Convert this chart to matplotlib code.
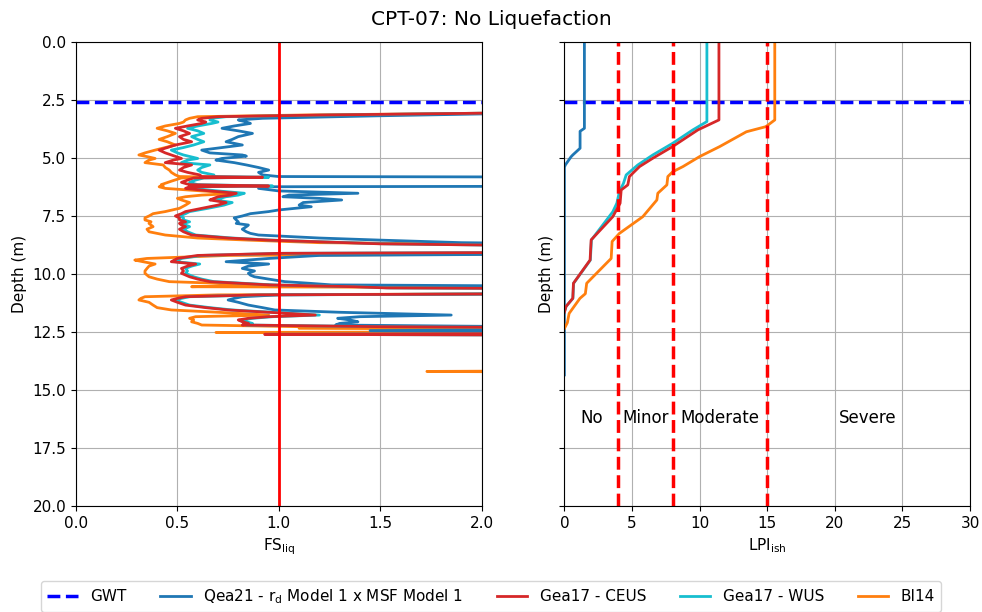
import matplotlib
matplotlib.use("Agg")
import matplotlib.pyplot as plt

# CPT-07 liquefaction triggering / LPIish summary
# FS values above 2 are off the axis, stored as 3.0 so the line leaves the plot

GWT_DEPTH = 2.6

# ---- factor of safety profiles (depth in m, FS) ----
qea21_depth = [0.0, 3.0, 3.07, 3.18, 3.29, 3.36, 3.45, 3.51, 3.62, 3.72, 3.83, 3.94, 4.08, 4.2, 4.3,
               4.44, 4.55, 4.66, 4.78, 4.87, 4.92, 5.02, 5.09, 5.2, 5.3, 5.41, 5.52, 5.62, 5.73, 5.8,
               5.83, 6.21, 6.24, 6.31, 6.42, 6.52, 6.6, 6.67, 6.74, 6.81, 6.92, 7.03, 7.1, 7.17, 7.24,
               7.31, 7.4, 7.5, 7.58, 7.67, 7.75, 7.82, 7.89, 7.96, 8.07, 8.18, 8.25, 8.32, 8.45, 8.54,
               8.65, 8.75, 9.11, 9.2, 9.33, 9.47, 9.57, 9.66, 9.76, 9.87, 9.97, 10.05, 10.12, 10.22,
               10.33, 10.4, 10.47, 10.55, 10.83, 10.9, 10.98, 11.05, 11.12, 11.22, 11.34, 11.45,
               11.55, 11.65, 11.77, 11.84, 11.91, 11.98, 12.06, 12.13, 12.2, 12.27, 12.34, 12.38,
               12.44, 12.5, 14.3]
qea21_fs = [3.0, 3.0, 2.2, 1.5, 0.92, 0.8, 0.84, 0.86, 0.78, 0.72, 0.8, 0.87, 0.8, 0.77, 0.74,
            0.82, 0.72, 0.62, 0.66, 0.82, 0.84, 0.72, 0.69, 0.78, 0.84, 0.9, 0.95, 0.9, 0.92, 1.0,
            3.0, 3.0, 0.95, 0.9, 1.0, 1.39, 1.05, 1.02, 1.2, 1.31, 1.12, 1.1, 1.16, 1.08, 1.0,
            0.95, 0.86, 0.82, 0.78, 0.79, 0.8, 0.79, 0.85, 0.84, 0.82, 0.84, 0.86, 0.9, 1.2, 1.5,
            1.9, 3.0, 3.0, 1.2, 0.95, 0.74, 0.95, 0.85, 0.82, 0.88, 0.85, 0.86, 0.88, 0.95,
            1.03, 1.15, 1.26, 3.0, 3.0, 1.0, 0.82, 0.78, 0.75, 0.8, 0.85, 0.92,
            0.98, 1.3, 1.85, 1.4, 1.29, 1.35, 1.39, 1.3, 1.28, 2.2, 3.0, 3.0,
            1.45, 3.0, 3.0]

ceus_depth = [0.0, 3.0, 3.07, 3.15, 3.22, 3.29, 3.36, 3.45, 3.51, 3.62, 3.72, 3.83, 3.94, 4.08, 4.2,
              4.3, 4.44, 4.55, 4.66, 4.78, 4.87, 5.02, 5.09, 5.2, 5.3, 5.41, 5.52, 5.62, 5.73, 5.8,
              5.83, 5.86, 5.95, 6.05, 6.15, 6.21, 6.24, 6.31, 6.42, 6.52, 6.6, 6.67, 6.74, 6.81,
              6.92, 7.03, 7.17, 7.31, 7.4, 7.5, 7.58, 7.67, 7.75, 7.82, 7.89, 7.96, 8.07, 8.18,
              8.32, 8.45, 8.54, 8.7, 8.85, 9.05, 9.11, 9.2, 9.33, 9.47, 9.57, 9.66, 9.76, 9.87,
              9.97, 10.12, 10.22, 10.33, 10.47, 10.55, 10.6, 10.65, 10.83, 10.9, 10.98, 11.05,
              11.12, 11.22, 11.34, 11.45, 11.55, 11.65, 11.77, 11.84, 11.91, 11.98, 12.06, 12.13,
              12.2, 12.27, 12.34, 12.55, 12.6, 12.65, 14.3]
ceus_fs = [3.0, 3.0, 2.0, 1.2, 0.7, 0.62, 0.6, 0.64, 0.62, 0.55, 0.49, 0.53, 0.56, 0.51, 0.53,
           0.57, 0.49, 0.45, 0.41, 0.44, 0.47, 0.52, 0.48, 0.44, 0.57, 0.53, 0.51, 0.55, 0.61, 0.62,
           0.92, 0.58, 0.55, 0.52, 0.56, 0.95, 0.56, 0.54, 0.66, 0.79, 0.76, 0.7, 0.68, 0.66,
           0.74, 0.7, 0.62, 0.54, 0.52, 0.49, 0.51, 0.51, 0.54, 0.51, 0.52, 0.54, 0.51, 0.53,
           0.57, 0.75, 0.95, 1.5, 3.0, 3.0, 1.0, 0.6, 0.5, 0.47, 0.59, 0.55, 0.52, 0.53,
           0.52, 0.56, 0.6, 0.66, 0.95, 1.38, 1.53, 3.0, 3.0, 0.9, 0.54, 0.5,
           0.47, 0.5, 0.54, 0.64, 0.75, 0.95, 1.18, 0.95, 0.85, 0.8, 0.82, 0.85,
           0.82, 1.5, 3.0, 3.0, 0.93, 3.0, 3.0]

wus_depth = [0.0, 3.0, 3.07, 3.15, 3.22, 3.29, 3.36, 3.45, 3.51, 3.62, 3.72, 3.83, 3.94, 4.08, 4.2,
             4.3, 4.44, 4.55, 4.66, 4.78, 4.87, 5.02, 5.09, 5.2, 5.3, 5.41, 5.52, 5.62, 5.73, 5.8,
             5.83, 5.86, 5.95, 6.05, 6.15, 6.21, 6.24, 6.31, 6.42, 6.52, 6.6, 6.67, 6.74, 6.81,
             6.92, 7.03, 7.17, 7.31, 7.4, 7.5, 7.58, 7.67, 7.75, 7.82, 7.89, 7.96, 8.07, 8.18,
             8.32, 8.45, 8.54, 8.7, 8.85, 9.05, 9.11, 9.2, 9.33, 9.47, 9.57, 9.66, 9.76, 9.87,
             9.97, 10.12, 10.22, 10.33, 10.47, 10.55, 10.6, 10.65, 10.83, 10.9, 10.98, 11.05,
             11.12, 11.22, 11.34, 11.45, 11.55, 11.65, 11.77, 11.84, 11.91, 11.98, 12.06, 12.13,
             12.2, 12.27, 12.34, 12.55, 12.6, 12.65, 14.3]
wus_fs = [3.0, 3.0, 2.0, 1.25, 0.74, 0.67, 0.66, 0.7, 0.67, 0.6, 0.55, 0.6, 0.63, 0.57, 0.6,
          0.63, 0.58, 0.53, 0.47, 0.5, 0.53, 0.6, 0.55, 0.52, 0.66, 0.62, 0.6, 0.62, 0.68, 0.68,
          0.95, 0.63, 0.59, 0.56, 0.6, 0.97, 0.59, 0.57, 0.7, 0.83, 0.8, 0.74, 0.71, 0.69,
          0.77, 0.73, 0.65, 0.56, 0.54, 0.51, 0.53, 0.53, 0.56, 0.53, 0.54, 0.56, 0.53, 0.55,
          0.59, 0.77, 0.97, 1.52, 3.0, 3.0, 1.02, 0.62, 0.52, 0.49, 0.61, 0.57, 0.54, 0.55,
          0.54, 0.58, 0.62, 0.68, 0.97, 1.4, 1.55, 3.0, 3.0, 0.92, 0.56, 0.52,
          0.49, 0.52, 0.56, 0.66, 0.77, 0.97, 1.2, 0.97, 0.87, 0.82, 0.84, 0.87,
          0.84, 1.52, 3.0, 3.0, 0.95, 3.0, 3.0]

bi14_depth = [0.0, 3.0, 3.07, 3.15, 3.22, 3.29, 3.36, 3.45, 3.51, 3.62, 3.72, 3.83, 3.94, 4.08, 4.2,
              4.3, 4.44, 4.55, 4.66, 4.78, 4.87, 4.94, 5.02, 5.09, 5.2, 5.3, 5.41, 5.52, 5.62, 5.73,
              5.8, 5.83, 5.86, 6.0, 6.15, 6.21, 6.24, 6.31, 6.42, 6.52, 6.6, 6.67, 6.74, 6.81,
              6.92, 7.03, 7.17, 7.31, 7.4, 7.5, 7.58, 7.67, 7.75, 7.82, 7.96, 8.07, 8.18, 8.32,
              8.45, 8.54, 8.65, 8.8, 9.11, 9.2, 9.33, 9.4, 9.47, 9.57, 9.66, 9.76, 9.87, 9.97,
              10.12, 10.22, 10.33, 10.47, 10.55, 10.6, 10.83, 10.9, 10.98, 11.05, 11.12, 11.22,
              11.34, 11.45, 11.55, 11.65, 11.77, 11.84, 11.91, 11.98, 12.06, 12.13, 12.2, 12.27,
              12.34, 12.4, 12.48, 12.52, 12.56, 14.15, 14.2, 14.25, 14.3]
bi14_fs = [3.0, 3.0, 2.0, 1.1, 0.6, 0.56, 0.54, 0.53, 0.51, 0.44, 0.4, 0.45, 0.49, 0.45, 0.41,
           0.45, 0.49, 0.44, 0.39, 0.34, 0.31, 0.35, 0.39, 0.36, 0.34, 0.43, 0.44, 0.46, 0.47, 0.49,
           0.51, 0.7, 0.52, 0.47, 0.42, 0.43, 0.41, 0.44, 0.62, 0.8, 0.62, 0.54, 0.5, 0.52,
           0.56, 0.54, 0.51, 0.44, 0.38, 0.36, 0.34, 0.34, 0.37, 0.36, 0.38, 0.35, 0.36, 0.44,
           0.6, 0.85, 1.2, 3.0, 3.0, 0.75, 0.35, 0.29, 0.33, 0.39, 0.36, 0.35, 0.34, 0.34,
           0.36, 0.4, 0.46, 0.95, 0.57, 3.0, 3.0, 0.7, 0.34, 0.32, 0.31, 0.36,
           0.38, 0.4, 0.47, 0.7, 0.95, 0.59, 0.56, 0.58, 0.57, 0.6, 0.62, 1.1,
           1.1, 3.0, 3.0, 0.69, 3.0, 3.0, 1.73, 3.0, 3.0]

# ---- LPIish profiles (depth in m, LPIish) ----
qea21_lpi_depth = [0.0, 3.72, 3.85, 4.58, 4.87, 4.95, 5.3, 5.4, 14.35]
qea21_lpi = [1.48, 1.48, 1.16, 1.16, 0.62, 0.49, 0.07, 0.0, 0.0]

ceus_lpi_depth = [0.0, 3.36, 3.79, 4.51, 5.01, 5.37, 5.8, 6.16, 6.38, 6.95, 7.53, 8.53, 9.4,
                  10.4, 11.05, 11.4, 11.65]
ceus_lpi = [11.43, 11.43, 9.87, 8.0, 6.54, 5.56, 4.81, 4.69, 4.2, 4.12, 3.58, 1.98, 1.9,
            0.67, 0.62, 0.12, 0.0]

wus_lpi_depth = [0.0, 3.43, 3.79, 4.37, 4.87, 5.3, 5.73, 6.09, 6.45, 6.95, 7.32, 8.53, 9.4,
                 10.4, 11.05, 11.4, 11.65]
wus_lpi = [10.54, 10.54, 9.5, 8.0, 6.54, 5.43, 4.57, 4.37, 4.07, 3.88, 3.58, 2.0, 1.92,
           0.68, 0.63, 0.12, 0.0]

bi14_lpi_depth = [0.0, 3.36, 3.65, 3.87, 4.51, 4.94, 5.37, 5.59, 5.8, 6.16, 6.52, 6.81, 7.53,
                  8.25, 8.6, 9.33, 10.4, 10.85, 11.05, 11.7, 12.1, 12.35]
bi14_lpi = [15.56, 15.56, 14.9, 13.46, 11.48, 10.0, 8.77, 8.02, 7.65, 7.58, 6.91, 6.84, 5.8,
            4.07, 3.53, 3.46, 1.65, 1.55, 1.15, 0.35, 0.22, 0.0]

# LPIish severity class boundaries and labels
lpi_bounds = [4, 8, 15]
lpi_classes = ["No", "Minor", "Moderate", "Severe"]
lpi_class_x = [2.0, 6.0, 11.5, 22.4]

plt.rcParams["font.size"] = 11

fig, (ax1, ax2) = plt.subplots(1, 2, figsize=(9.82, 6.12), dpi=100, sharey=True)
fig.subplots_adjust(left=0.0774, right=0.9878, bottom=0.1732, top=0.9314, wspace=0.204)

# left: factor of safety
ax1.plot(bi14_fs, bi14_depth, color="tab:orange", lw=2)
ax1.plot(qea21_fs, qea21_depth, color="tab:blue", lw=2)
ax1.plot(wus_fs, wus_depth, color="tab:cyan", lw=2)
ax1.plot(ceus_fs, ceus_depth, color="tab:red", lw=2)
ax1.axhline(GWT_DEPTH, color="blue", ls="--", lw=2.5)
ax1.axvline(1.0, color="red", lw=2)
ax1.set_xlim(0, 2)
ax1.set_ylim(20, 0)
ax1.set_xticks([0, 0.5, 1.0, 1.5, 2.0])
ax1.set_yticks([0, 2.5, 5, 7.5, 10, 12.5, 15, 17.5, 20])
ax1.set_xlabel("FS$_{\\mathregular{liq}}$")
ax1.set_ylabel("Depth (m)")
ax1.grid(True)

# right: LPIish
h_gwt, = ax2.plot([0, 30], [GWT_DEPTH, GWT_DEPTH], color="blue", ls="--", lw=2.5)
h_qea, = ax2.plot(qea21_lpi, qea21_lpi_depth, color="tab:blue", lw=2)
h_wus, = ax2.plot(wus_lpi, wus_lpi_depth, color="tab:cyan", lw=2)
h_ceus, = ax2.plot(ceus_lpi, ceus_lpi_depth, color="tab:red", lw=2)
h_bi, = ax2.plot(bi14_lpi, bi14_lpi_depth, color="tab:orange", lw=2)
for b in lpi_bounds:
    ax2.axvline(b, color="red", ls="--", lw=2.5)
for label, x in zip(lpi_classes, lpi_class_x):
    ax2.text(x, 16.2, label, ha="center", va="center", fontsize=12)
ax2.set_xlim(0, 30)
ax2.set_xticks(range(0, 31, 5))
ax2.set_xlabel("LPI$_{\\mathregular{ish}}$")
ax2.set_ylabel("Depth (m)")
ax2.yaxis.set_tick_params(labelleft=False)
ax2.grid(True)

fig.suptitle("CPT-07: No Liquefaction", y=0.984, fontsize=14.5)

fig.legend([h_gwt, h_qea, h_ceus, h_wus, h_bi],
           ["GWT", "Qea21 - r$_{\\mathregular{d}}$ Model 1 x MSF Model 1", "Gea17 - CEUS",
            "Gea17 - WUS", "BI14"],
           loc="lower center", bbox_to_anchor=(0.5, -0.012), ncol=5, fontsize=11,
           handlelength=2.0, columnspacing=2.2)

fig.savefig("out.png", dpi=100)
